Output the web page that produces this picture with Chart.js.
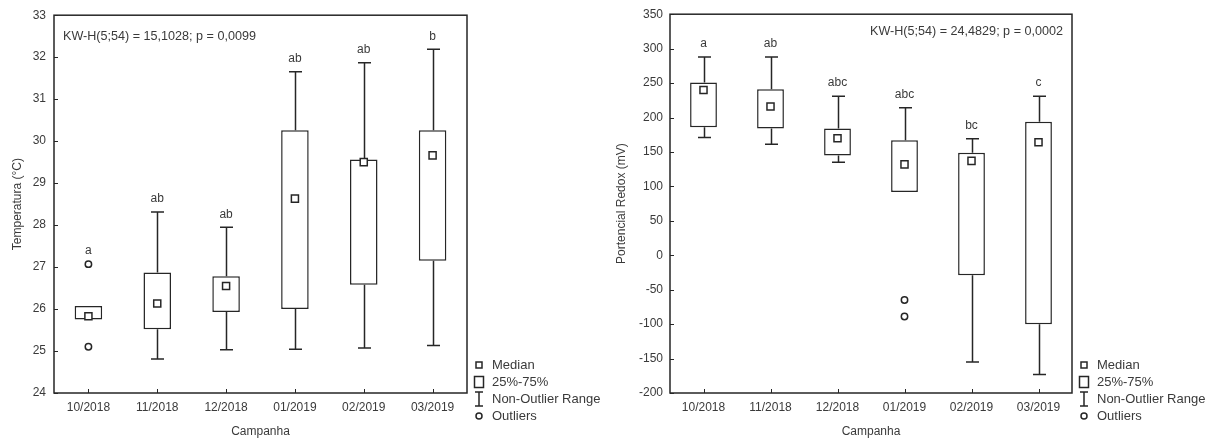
<!DOCTYPE html>
<html>
<head>
<meta charset="utf-8">
<script src="https://cdn.jsdelivr.net/npm/chart.js@4.4.1/dist/chart.umd.min.js"></script>
<style>
  body { margin: 0; background: #fff; }
  #wrap { position: relative; width: 1210px; height: 441px; }
  #tempBox { position: absolute; left: 0; top: 0; }
  #redoxBox { position: absolute; left: 600px; top: 0; }
</style>
</head>
<body>
<div id="wrap">
  <canvas id="tempBox" width="600" height="441"></canvas>
  <canvas id="redoxBox" width="610" height="441"></canvas>
</div>
<script>
const campaigns = ['10/2018', '11/2018', '12/2018', '01/2019', '02/2019', '03/2019'];

// Temperatura (°C)
const tempQ1 = [25.75, 25.52, 25.93, 26.00, 26.58, 27.15];
const tempQ3 = [26.07, 26.87, 26.78, 30.26, 29.56, 30.26];
const tempMedian = [25.83, 26.13, 26.55, 28.63, 29.50, 29.66];
const tempLow = [25.75, 24.81, 25.03, 25.04, 25.07, 25.13];
const tempHigh = [26.07, 28.31, 27.95, 31.65, 31.87, 32.19];
const tempOutlierCats = ['10/2018', '10/2018'];
const tempOutliers = [27.07, 25.10];
const tempLetters = ['a', 'ab', 'ab', 'ab', 'ab', 'b'];
const tempTicks = { min: 24, max: 33, step: 1 };
const tempNote = 'KW-H(5;54) = 15,1028; p = 0,0099';

// Potencial Redox (mV)
const redoxQ1 = [186, 184, 145, 92, -29, -100];
const redoxQ3 = [251, 241, 184, 167, 149, 194];
const redoxMedian = [240, 216, 170, 132, 137, 164];
const redoxLow = [171, 161, 135, 92, -155, -173];
const redoxHigh = [288, 288, 231, 214, 169, 231];
const redoxOutlierCats = ['01/2019', '01/2019'];
const redoxOutliers = [-65, -89];
const redoxLetters = ['a', 'ab', 'abc', 'abc', 'bc', 'c'];
const redoxTicks = { min: -200, max: 350, step: 50 };
const redoxNote = 'KW-H(5;54) = 24,4829; p = 0,0002';

const legendLabels = ['Median', '25%-75%', 'Non-Outlier Range', 'Outliers'];

const INK = '#262626';
const TEXT = '#3a3a3a';
const FONT = 'Arial, "Liberation Sans", sans-serif';

Chart.defaults.font.family = FONT;
Chart.defaults.font.size = 12;
Chart.defaults.color = TEXT;

// whiskers, frame, inner ticks, group letters, KW note and legend
function boxExtras(s) {
  return {
    id: 'boxExtras',
    beforeDatasetsDraw(chart) {
      const { ctx, scales: { x, y } } = chart;
      ctx.save();
      ctx.strokeStyle = INK;
      ctx.lineWidth = 1.5;
      const cap = 6.5;
      campaigns.forEach((c, i) => {
        const px = Math.round(x.getPixelForValue(i)) + 0.5;
        const segs = [];
        if (s.low[i] < s.q1[i]) segs.push([s.low[i], s.q1[i]]);
        if (s.high[i] > s.q3[i]) segs.push([s.high[i], s.q3[i]]);
        segs.forEach(([end, edge]) => {
          const ye = y.getPixelForValue(end);
          ctx.beginPath();
          ctx.moveTo(px, y.getPixelForValue(edge));
          ctx.lineTo(px, ye);
          ctx.moveTo(px - cap, ye);
          ctx.lineTo(px + cap, ye);
          ctx.stroke();
        });
      });
      ctx.restore();
    },
    afterDraw(chart) {
      const { ctx, chartArea: a, scales: { x, y } } = chart;
      ctx.save();
      ctx.strokeStyle = INK;
      ctx.lineWidth = 1.5;
      ctx.strokeRect(a.left, a.top, a.right - a.left, a.bottom - a.top);

      // tick marks pointing into the plot
      ctx.beginPath();
      y.ticks.forEach((t, i) => {
        const py = Math.round(y.getPixelForTick(i)) + 0.5;
        ctx.moveTo(a.left, py);
        ctx.lineTo(a.left + 4, py);
      });
      x.ticks.forEach((t, i) => {
        const px = Math.round(x.getPixelForTick(i)) + 0.5;
        ctx.moveTo(px, a.bottom);
        ctx.lineTo(px, a.bottom - 4);
      });
      ctx.lineWidth = 1;
      ctx.stroke();

      ctx.fillStyle = TEXT;
      ctx.font = '12px ' + FONT;
      ctx.textBaseline = 'middle';

      // group letters above the highest mark of each campaign
      ctx.textAlign = 'center';
      campaigns.forEach((c, i) => {
        let top = s.high[i];
        s.outCats.forEach((oc, k) => {
          if (oc === c && s.out[k] > top) top = s.out[k];
        });
        ctx.fillText(s.letters[i], x.getPixelForValue(i), y.getPixelForValue(top) - 13);
      });

      // Kruskal-Wallis note
      ctx.font = '12.6px ' + FONT;
      ctx.textAlign = s.noteAlign;
      const nx = s.noteAlign === 'left' ? a.left + 9 : a.right - 9;
      ctx.fillText(s.note, nx, a.top + s.noteDy);

      // legend block
      const lx = a.right + 12;
      const tx = a.right + 25;
      const rows = [365, 382, 399, 416];
      ctx.font = '13px ' + FONT;
      ctx.textAlign = 'left';
      legendLabels.forEach((lab, i) => ctx.fillText(lab, tx, rows[i]));
      ctx.strokeStyle = INK;
      ctx.lineWidth = 1.5;
      ctx.strokeRect(lx - 3, rows[0] - 3, 6, 6);
      ctx.strokeRect(lx - 4.5, rows[1] - 5.5, 9, 11);
      ctx.beginPath();
      ctx.moveTo(lx, rows[2] - 7);
      ctx.lineTo(lx, rows[2] + 7);
      ctx.moveTo(lx - 4, rows[2] - 7);
      ctx.lineTo(lx + 4, rows[2] - 7);
      ctx.moveTo(lx - 4, rows[2] + 7);
      ctx.lineTo(lx + 4, rows[2] + 7);
      ctx.stroke();
      ctx.beginPath();
      ctx.arc(lx, rows[3], 3, 0, Math.PI * 2);
      ctx.stroke();
      ctx.restore();
    }
  };
}

function makeBoxChart(id, s) {
  return new Chart(document.getElementById(id), {
    type: 'bar',
    data: {
      labels: campaigns,
      datasets: [
        {
          type: 'line',
          label: 'Median',
          data: s.median,
          showLine: false,
          pointStyle: 'rect',
          pointRadius: 5,
          pointBorderWidth: 1.5,
          pointBackgroundColor: '#fff',
          pointBorderColor: INK
        },
        {
          type: 'line',
          label: 'Outliers',
          data: s.outCats.map((c, k) => ({ x: c, y: s.out[k] })),
          showLine: false,
          pointStyle: 'circle',
          pointRadius: 3.2,
          pointBorderWidth: 1.5,
          pointBackgroundColor: '#fff',
          pointBorderColor: INK
        },
        {
          label: '25%-75%',
          data: s.q1.map((v, i) => [v, s.q3[i]]),
          backgroundColor: '#fff',
          borderColor: INK,
          borderWidth: 1.5,
          borderSkipped: false,
          categoryPercentage: 1,
          barPercentage: 0.4
        }
      ]
    },
    options: {
      responsive: false,
      animation: false,
      events: [],
      layout: { padding: { top: 11, right: s.padRight, bottom: 0, left: 0 } },
      plugins: { legend: { display: false }, tooltip: { enabled: false } },
      scales: {
        x: {
          grid: { display: false, drawTicks: false },
          border: { display: false },
          ticks: { padding: 7, color: TEXT, font: { size: 12 }, maxRotation: 0 },
          title: { display: true, text: 'Campanha', color: TEXT, font: { size: 12 }, padding: { top: 0, bottom: 2 } },
          afterFit: (scale) => { scale.height = 48; }
        },
        y: {
          min: s.ticks.min,
          max: s.ticks.max,
          grid: { display: false, drawTicks: false },
          border: { display: false },
          ticks: { stepSize: s.ticks.step, autoSkip: false, padding: s.tickPad, color: TEXT, font: { size: 12 } },
          title: { display: true, text: s.yTitle, color: TEXT, font: { size: 12 }, padding: { top: s.titlePad, bottom: 0 } },
          afterFit: (scale) => { scale.width = s.axisWidth; }
        }
      }
    },
    plugins: [boxExtras(s)]
  });
}

makeBoxChart('tempBox', {
  q1: tempQ1, q3: tempQ3, median: tempMedian, low: tempLow, high: tempHigh,
  outCats: tempOutlierCats, out: tempOutliers, letters: tempLetters, ticks: tempTicks,
  note: tempNote, noteAlign: 'left', noteDy: 21,
  yTitle: 'Temperatura (°C)', axisWidth: 54, tickPad: 8, titlePad: 10, padRight: 133
});

makeBoxChart('redoxBox', {
  q1: redoxQ1, q3: redoxQ3, median: redoxMedian, low: redoxLow, high: redoxHigh,
  outCats: redoxOutlierCats, out: redoxOutliers, letters: redoxLetters, ticks: redoxTicks,
  note: redoxNote, noteAlign: 'right', noteDy: 17,
  yTitle: 'Portencial Redox (mV)', axisWidth: 70, tickPad: 7, titlePad: 14.5, padRight: 138
});
</script>
</body>
</html>
